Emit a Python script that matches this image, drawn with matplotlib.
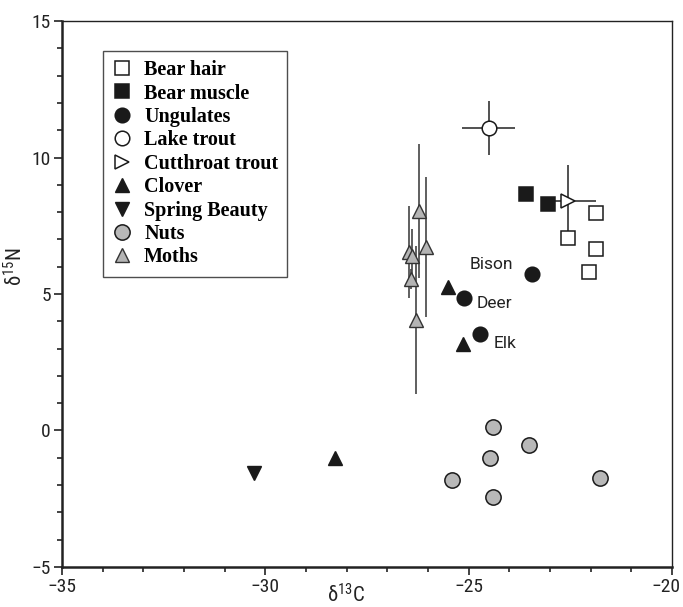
import matplotlib.pyplot as plt
import matplotlib.transforms as mtransforms
from matplotlib.ticker import MultipleLocator

# Data (delta13C, delta15N)
bear_hair_x = [-21.86, -22.55, -21.86, -22.03]
bear_hair_y = [7.97, 7.05, 6.65, 5.81]

bear_muscle_x = [-23.60, -23.04]
bear_muscle_y = [8.66, 8.30]

ungulate_names = ["Bison", "Deer", "Elk"]
ungulate_x = [-23.43, -25.12, -24.73]
ungulate_y = [5.73, 4.85, 3.53]

lake_trout_x = [-24.51]
lake_trout_y = [11.08]
lake_trout_xerr = [0.66]
lake_trout_yerr = [1.0]

cutthroat_x = [-22.55]
cutthroat_y = [8.41]
cutthroat_xerr = [0.68]
cutthroat_yerr = [1.3]

clover_x = [-25.51, -25.15, -28.28]
clover_y = [5.26, 3.17, -1.0]

spring_beauty_x = [-30.29]
spring_beauty_y = [-1.56]

nuts_x = [-24.41, -23.51, -24.48, -25.42, -24.41, -21.76]
nuts_y = [0.13, -0.53, -1.0, -1.81, -2.44, -1.74]

moths_x = [-26.23, -26.05, -26.47, -26.40, -26.42, -26.30]
moths_y = [8.04, 6.72, 6.54, 6.39, 5.55, 4.05]
moths_yerr = [2.45, 2.55, 1.7, 1.0, 0.35, 2.7]

narrow = ['Roboto Condensed', 'DejaVu Sans']
plt.rcParams['font.family'] = narrow
plt.rcParams['mathtext.fontset'] = 'custom'
plt.rcParams['mathtext.rm'] = 'Roboto Condensed'
plt.rcParams['mathtext.it'] = 'Roboto Condensed'
plt.rcParams['mathtext.bf'] = 'Roboto Condensed'

fig = plt.figure(figsize=(6.83, 6.07), dpi=100)
ax = fig.add_axes([0.0908, 0.0659, 0.893, 0.8995])

# error bars first, markers on top
ax.errorbar(moths_x, moths_y, yerr=moths_yerr, fmt='none', ecolor='#444444',
            elinewidth=1.2, capsize=0, zorder=2)
ax.errorbar(lake_trout_x, lake_trout_y, xerr=lake_trout_xerr, yerr=lake_trout_yerr,
            fmt='none', ecolor='#222222', elinewidth=1.1, capsize=0, zorder=2)
ax.errorbar(cutthroat_x, cutthroat_y, xerr=cutthroat_xerr, yerr=cutthroat_yerr,
            fmt='none', ecolor='#222222', elinewidth=1.1, capsize=0, zorder=2)

ec = '#1a1a1a'
ax.plot(bear_hair_x, bear_hair_y, 's', ms=10, mfc='white', mec=ec, mew=1.1,
        label='Bear hair', zorder=3)
ax.plot(bear_muscle_x, bear_muscle_y, 's', ms=10, mfc='#1a1a1a', mec=ec, mew=1.1,
        label='Bear muscle', zorder=3)
ax.plot(ungulate_x, ungulate_y, 'o', ms=10.5, mfc='#1a1a1a', mec=ec, mew=1.1,
        label='Ungulates', zorder=3)
ax.plot(lake_trout_x, lake_trout_y, 'o', ms=10.5, mfc='white', mec=ec, mew=1.1,
        label='Lake trout', zorder=3)
ax.plot(cutthroat_x, cutthroat_y, '>', ms=10, mfc='white', mec=ec, mew=1.1,
        label='Cutthroat trout', zorder=3)
ax.plot(clover_x, clover_y, '^', ms=10, mfc='#1a1a1a', mec=ec, mew=1.0,
        label='Clover', zorder=3)
ax.plot(spring_beauty_x, spring_beauty_y, 'v', ms=10, mfc='#1a1a1a', mec=ec, mew=1.0,
        label='Spring Beauty', zorder=3)
ax.plot(nuts_x, nuts_y, 'o', ms=11, mfc='#b8b8b8', mec=ec, mew=1.1,
        label='Nuts', zorder=3)
ax.plot(moths_x, moths_y, '^', ms=10, mfc='#b4b4b4', mec='#333333', mew=1.0,
        label='Moths', zorder=3)

# ungulate labels
label_offsets = [(-14, 7), (9, -4), (10, -6.5)]
label_ha = ['right', 'left', 'left']
for name, x, y, off, ha in zip(ungulate_names, ungulate_x, ungulate_y, label_offsets, label_ha):
    ax.annotate(name, (x, y), xytext=off, textcoords='offset points',
                ha=ha, va='center', fontsize=12.5, color='#222222', family='Roboto')

ax.set_xlim(-35, -20)
ax.set_ylim(-5, 15)
ax.set_xticks([-35, -30, -25, -20])
ax.set_yticks([-5, 0, 5, 10, 15])
ax.xaxis.set_minor_locator(MultipleLocator(1))
ax.yaxis.set_minor_locator(MultipleLocator(1))
ax.tick_params(which='major', direction='out', length=6, width=1.2, labelsize=14,
               pad=2, colors='#222222')
ax.tick_params(which='minor', direction='out', length=3.5, width=1.2, colors='#222222')
ax.tick_params(top=False, right=False, which='both')

# nudge the last x tick label so it stays inside the figure
last = ax.get_xticklabels()[-1]
last.set_transform(last.get_transform() +
                   mtransforms.ScaledTranslation(-4 / 72, 0, fig.dpi_scale_trans))

for side in ['left', 'bottom']:
    ax.spines[side].set_linewidth(1.8)
    ax.spines[side].set_color('#222222')
for side in ['top', 'right']:
    ax.spines[side].set_linewidth(1.0)
    ax.spines[side].set_color('#222222')

ax.set_xlabel('δ$^{13}$C', fontsize=15, color='#222222')
ax.set_ylabel('δ$^{15}$N', fontsize=15, color='#222222')
ax.xaxis.set_label_coords(0.466, -0.03)
ax.yaxis.set_label_coords(-0.058, 0.551)

leg = ax.legend(loc='upper left', bbox_to_anchor=(0.067, 0.945), borderaxespad=0,
                frameon=True, fancybox=False, edgecolor='#222222',
                prop={'family': 'Liberation Serif', 'weight': 'bold', 'size': 14.5},
                handlelength=1.0, handletextpad=0.6, labelspacing=0.17,
                borderpad=0.45, numpoints=1)
leg.get_frame().set_linewidth(1.0)

fig.savefig('out.png', dpi=100)
